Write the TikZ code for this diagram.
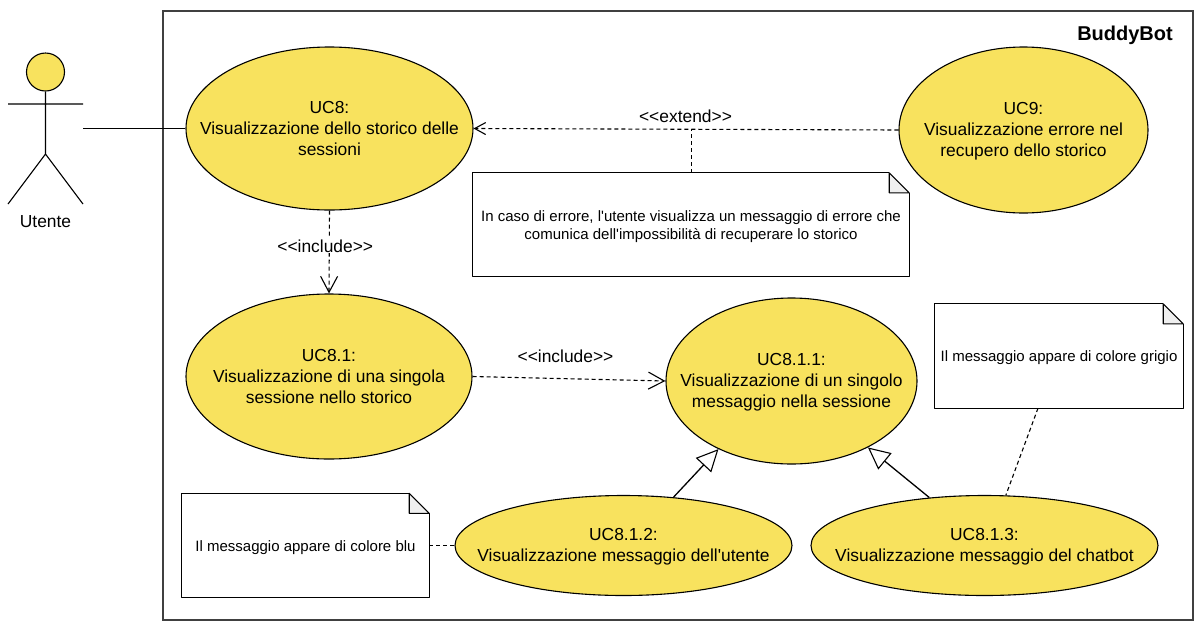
\documentclass[tikz,border=0pt]{standalone}
\usepackage{fontspec}
\setmainfont{Liberation Sans}[Ligatures=TeXOff]
\usetikzlibrary{shapes.geometric,arrows.meta}
\definecolor{ucyellow}{HTML}{F8E25E}
\definecolor{foldgray}{HTML}{EFEFEF}
\tikzset{
  usecase/.style={ellipse,draw,fill=ucyellow,line width=1.1pt,inner sep=0pt},
  uctext/.style={align=center,inner sep=0pt,font=\fontsize{17.4}{21}\selectfont},
  notebox/.style={rectangle,inner sep=0pt},
  notetext/.style={align=center,inner sep=0pt,yshift=-2pt,font=\fontsize{15}{18}\selectfont},
  dashline/.style={line width=1.1pt,dash pattern=on 4pt off 3pt},
  lbl/.style={font=\fontsize{17.4}{21}\selectfont,inner sep=1pt},
  include/.style={dashline,-{Straight Barb[length=16pt,width=17pt,line width=1.1pt]}},
  extend/.style={dashline,-{Straight Barb[length=11pt,width=12pt,line width=1.1pt]}},
  general/.style={line width=1.3pt,-{Triangle[open,fill=white,length=22pt,width=21pt,line width=1.1pt]}},
}
% outline and corner fold of a note
\newcommand{\noteoutline}[1]{
  \draw[line width=1.1pt,line join=round] ([xshift=-20pt]#1.north east) -- (#1.north west) -- (#1.south west)
    -- (#1.south east) -- ([yshift=-20pt]#1.north east);
  \draw[line width=1.1pt,fill=foldgray,line join=round] ([xshift=-20pt]#1.north east) -- ([xshift=-20pt,yshift=-20pt]#1.north east)
    -- ([yshift=-20pt]#1.north east) -- cycle;
}
\begin{document}
\begin{tikzpicture}[x=1pt,y=-1pt]
  \useasboundingbox (0,0) rectangle (1203,630);

  \node[draw=black!75,line width=1.3pt,minimum width=1030pt,minimum height=609pt,inner sep=0pt] (system) at (678,315.5) {};
  \node[font=\fontsize{20}{24}\selectfont\bfseries,anchor=east,inner sep=0pt] (title) at (1173,35) {BuddyBot};

  % actor
  \node[circle,draw,fill=ucyellow,line width=1.1pt,minimum size=38pt,inner sep=0pt] (head) at (45.5,72) {};
  \coordinate (hip) at (45.5,154);
  \coordinate (armL) at (8,104);
  \coordinate (armR) at (83,104);
  \coordinate (footL) at (8,204);
  \coordinate (footR) at (83,204);
  \coordinate (hand) at (83,128.5);
  \draw[line width=1.1pt] (head) -- (hip) (armL) -- (armR) (footL) -- (hip) -- (footR);
  \node[lbl] (utente) at (45.5,222) {Utente};

  % use cases
  \node[usecase,minimum width=287pt,minimum height=163pt,label={[uctext]center:{UC8:\\Visualizzazione dello storico delle\\sessioni}}] (uc8) at (329.5,128.5) {};
  \node[usecase,minimum width=249pt,minimum height=166pt,label={[uctext,yshift=-1.5pt]center:{UC9:\\Visualizzazione errore nel\\recupero dello storico}}] (uc9) at (1023.5,130) {};
  \node[usecase,minimum width=286pt,minimum height=165pt,label={[uctext]center:{UC8.1:\\Visualizzazione di una singola\\sessione nello storico}}] (uc81) at (329,376.5) {};
  \node[usecase,minimum width=251pt,minimum height=166pt,label={[uctext,yshift=-1.5pt]center:{UC8.1.1:\\Visualizzazione di un singolo\\messaggio nella sessione}}] (uc811) at (791.5,381) {};
  \node[usecase,minimum width=337pt,minimum height=100pt,label={[uctext,yshift=-1pt]center:{UC8.1.2:\\Visualizzazione messaggio dell'utente}}] (uc812) at (623.5,545.5) {};
  \node[usecase,minimum width=347pt,minimum height=100pt,label={[uctext,yshift=-1pt]center:{UC8.1.3:\\Visualizzazione messaggio del chatbot}}] (uc813) at (984.5,545.5) {};

  % notes
  \node[notebox,minimum width=436pt,minimum height=103pt,label={[notetext]center:{In caso di errore, l'utente visualizza un messaggio di errore che\\comunica dell'impossibilità di recuperare lo storico}}] (noteerr) at (691,224.5) {};
  \node[notebox,minimum width=248pt,minimum height=104pt,label={[notetext]center:{Il messaggio appare di colore grigio}}] (notegrey) at (1059,356) {};
  \node[notebox,minimum width=247pt,minimum height=104pt,label={[notetext]center:{Il messaggio appare di colore blu}}] (noteblue) at (305.5,545.5) {};
  \noteoutline{noteerr}
  \noteoutline{notegrey}
  \noteoutline{noteblue}

  % connectors
  \draw[line width=1.1pt] (hand) -- (uc8);
  \draw[extend] (uc9.west) -- coordinate[pos=0.5] (extmid) (uc8.east);
  \node[lbl] (extlabel) at (685.5,116) {<<extend>>};
  \draw[dashline] ([xshift=0.5pt]noteerr.north) -- ([xshift=0.5pt]noteerr.north |- extmid);
  \draw[include] (uc8.south) -- node[lbl,fill=white,pos=0.45,xshift=-4pt,yshift=2pt] (inclabel) {<<include>>} (uc81.north);
  \draw[include] (uc81.east) -- (uc811.west);
  \node[lbl] (inclabelb) at (565.5,356) {<<include>>};
  \draw[general] (uc812.44.8) -- (uc811.223.7);
  \draw[general] (uc813.139.7) -- (uc811.319.5);
  \draw[dashline] ([xshift=-21pt]notegrey.south) -- (uc813.67);
  \draw[dashline] (noteblue.east) -- (uc812.west);
\end{tikzpicture}
\end{document}
